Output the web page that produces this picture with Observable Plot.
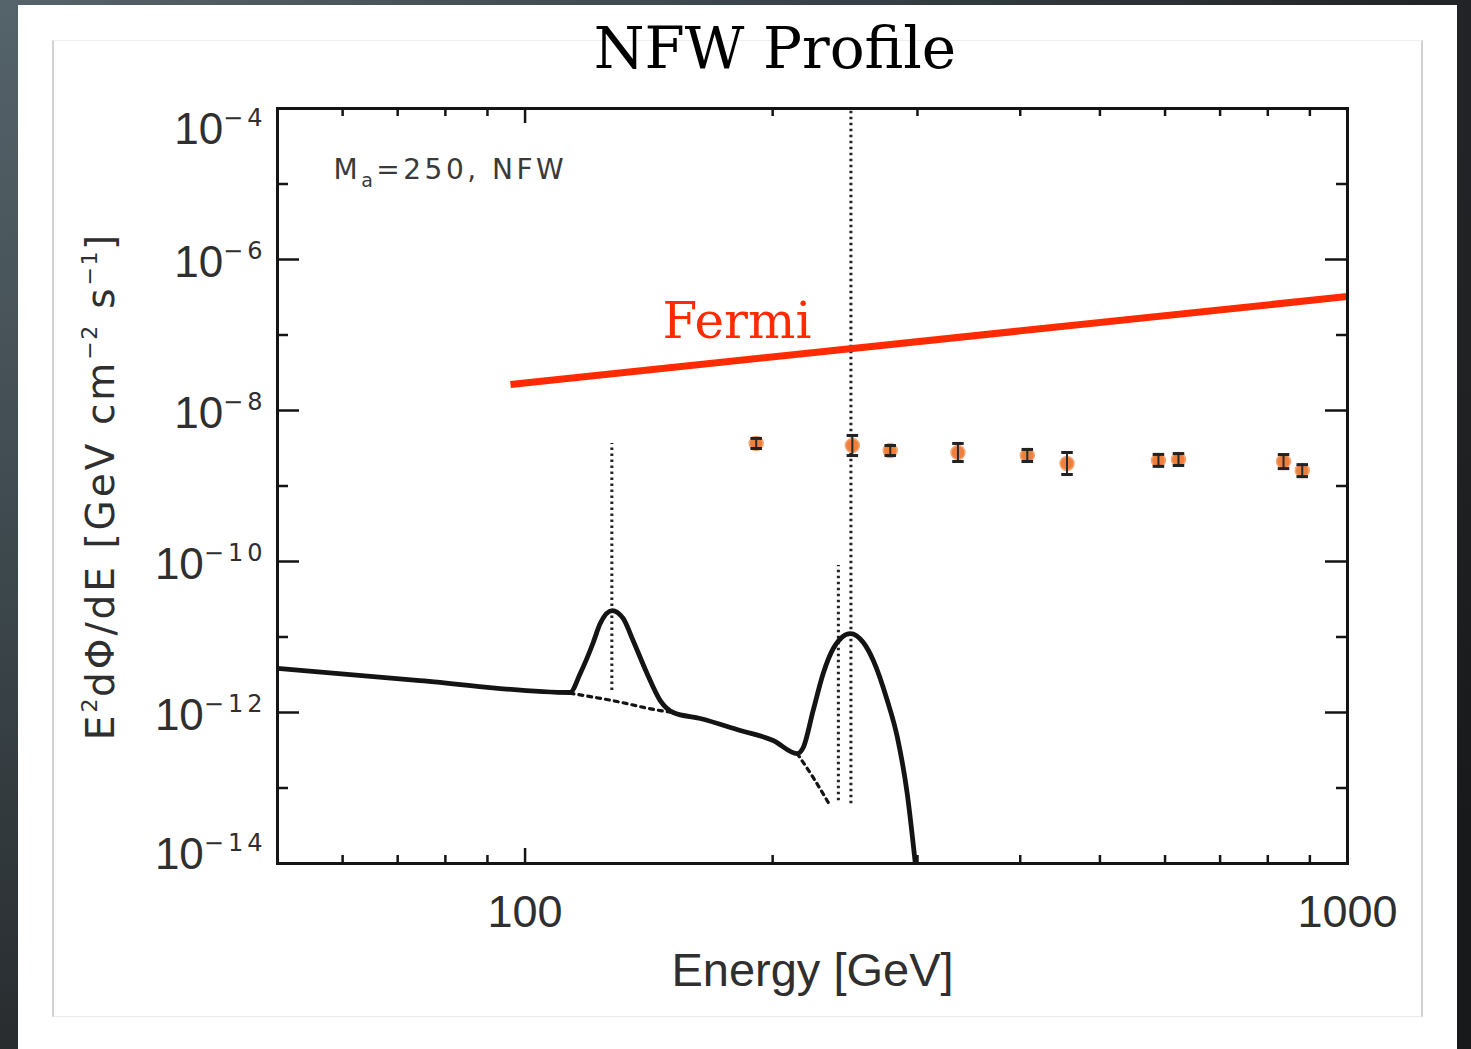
<!DOCTYPE html>
<html>
<head>
<meta charset="utf-8">
<script src="https://cdn.jsdelivr.net/npm/d3@7"></script>
<script src="https://cdn.jsdelivr.net/npm/@observablehq/plot@0.6"></script>
<style>
  html, body { margin: 0; padding: 0; }
  body {
    width: 1471px; height: 1049px; overflow: hidden; position: relative;
    background: radial-gradient(ellipse 120% 140% at 0% 0%, #55636a 0%, #3c474c 40%, #26292c 75%, #18191a 100%);
  }
  #sheet { position: absolute; left: 18px; top: 5px; width: 1439px; height: 1060px; background: #fff; }
  #figure {
    position: absolute; left: 52px; top: 40px; width: 1371px; height: 977px; box-sizing: border-box;
    border-left: 2px solid #d2d2d2; border-right: 2px solid #d2d2d2;
    border-top: 1px solid #efefef; border-bottom: 1px solid #ebebeb;
  }
  #chart { position: absolute; left: 52px; top: 40px; }
  #title {
    position: absolute; left: 0; top: 19px; width: 1550px; text-align: center;
    font-family: "DejaVu Serif", serif; font-size: 58px; line-height: 58px; color: #000;
  }
</style>
</head>
<body>
<div id="sheet"></div>
<div id="figure"></div>
<div id="chart"></div>
<div id="title">NFW Profile</div>
<script>
// ---- Axis ticks --------------------------------------------------------
const xMajorTicks = [100, 1000];
const xMinorTicks = [60, 70, 80, 90, 200, 300, 400, 500, 600, 700, 800, 900];
const yMajorExponents = [-4, -6, -8, -10, -12, -14];
const yMinorExponents = [-5, -7, -9, -11, -13];

// ---- Total gamma-ray spectrum (continuum + line features) --------------
const spectrumEnergy = [50, 74.5, 113.4, 116.7, 120.9, 123.4, 127.6, 131.6, 135.3, 140.7, 146.0, 151.4,
  163.3, 182.6, 200.3, 214.2, 217.9, 224.0, 230.4, 237.0, 248.6, 257.8, 265.1, 275.7, 283.6, 291.5, 298.2];
const spectrumFlux = [3.83e-12, 2.65e-12, 1.84e-12, 3.29e-12, 8.20e-12, 1.51e-11, 2.24e-11, 1.76e-11, 9.0e-12, 3.29e-12, 1.44e-12, 1.0e-12,
  8.33e-13, 5.78e-13, 4.26e-13, 2.86e-13, 3.44e-13, 1.06e-12, 3.29e-12, 7.05e-12, 1.11e-11, 8.45e-12, 4.89e-12, 1.44e-12, 4.67e-13, 8.45e-14, 1.0e-14];

// ---- Continuum without the lines (dashed, under each bump) -------------
const continuum1Energy = [113.4, 127.6, 146.0, 151.4];
const continuum1Flux = [1.80e-12, 1.44e-12, 1.06e-12, 1.0e-12];
const continuum2Energy = [214.2, 224.0, 233.7];
const continuum2Flux = [2.86e-13, 1.38e-13, 6.43e-14];

// ---- Monochromatic lines (dotted verticals) ----------------------------
const lineEnergy = [127.5, 240.4, 249];
const lineTop = [3.66e-9, 8.85e-11, 1e-4];
const lineBottom = [1.95e-12, 6.8e-14, 6.2e-14];

// ---- Measured points with error bars -----------------------------------
const dataEnergy = [191, 250, 278, 336, 408, 456, 589, 623, 836, 881];
const dataFlux = [3.66e-9, 3.44e-9, 2.95e-9, 2.78e-9, 2.54e-9, 1.99e-9, 2.18e-9, 2.24e-9, 2.11e-9, 1.60e-9];
const dataLow = [3.14e-9, 2.53e-9, 2.53e-9, 2.11e-9, 2.11e-9, 1.42e-9, 1.82e-9, 1.87e-9, 1.70e-9, 1.33e-9];
const dataHigh = [4.27e-9, 4.67e-9, 3.44e-9, 3.66e-9, 3.05e-9, 2.78e-9, 2.62e-9, 2.69e-9, 2.61e-9, 1.92e-9];

// ---- Fermi sensitivity line --------------------------------------------
const fermiEnergy = [96, 1000];
const fermiFlux = [2.21e-8, 3.24e-7];
const fermiLabelEnergy = 181;

// ---- Texts -------------------------------------------------------------
const xTitle = "Energy [GeV]";
const yTitle = "E^{2}dΦ/dE [GeV cm^{−2} s^{−1}]";
const modelNote = "M_{a}=250, NFW";
const fermiLabel = "Fermi";

// ------------------------------------------------------------------------
const W = 1371, H = 977;
const M = {top: 68, right: 76, bottom: 154, left: 225};
const innerW = W - M.left - M.right;
const innerH = H - M.top - M.bottom;
const ink = "#141414";
const labelInk = "#2f2f2f";

const spectrum = spectrumEnergy.map((e, i) => ({e, f: spectrumFlux[i]}));
const continuum = [
  ...continuum1Energy.map((e, i) => ({part: 1, e, f: continuum1Flux[i]})),
  ...continuum2Energy.map((e, i) => ({part: 2, e, f: continuum2Flux[i]}))
];
const lines = lineEnergy.map((e, i) => ({e, top: lineTop[i], bottom: lineBottom[i]}));
const points = dataEnergy.map((e, i) => ({e, f: dataFlux[i], lo: dataLow[i], hi: dataHigh[i]}));
const fermi = fermiEnergy.map((e, i) => ({e, f: fermiFlux[i]}));

// Fermi label sits just above its line (log–log interpolation)
const lf = Math.log10;
const tFermi = (lf(fermiLabelEnergy) - lf(fermiEnergy[0])) / (lf(fermiEnergy[1]) - lf(fermiEnergy[0]));
const fermiLabelFlux = 10 ** (lf(fermiFlux[0]) + tFermi * (lf(fermiFlux[1]) - lf(fermiFlux[0])));

const yMajor = yMajorExponents.map(k => 10 ** k);
const yMinor = yMinorExponents.map(k => 10 ** k);
const expLabel = k => `10^{−${-k}}`;

// horizontal cap for the error bars
const capSymbol = {draw(context, size) { const w = Math.sqrt(size) / 2; context.moveTo(-w, 0); context.lineTo(w, 0); }};

const xMajorLen = 15, xMinorLen = 8, yMajorLen = 22, yMinorLen = 11;

const chart = Plot.plot({
  width: W, height: H,
  marginTop: M.top, marginRight: M.right, marginBottom: M.bottom, marginLeft: M.left,
  x: {type: "log", domain: [50, 1000], axis: null},
  y: {type: "log", domain: [1e-14, 1e-4], axis: null},
  style: {background: "transparent", fontFamily: "'Liberation Sans', Arial, sans-serif", overflow: "visible"},
  marks: [
    // line features
    Plot.ruleX(lines, {x: "e", y1: "bottom", y2: "top", stroke: "#222", strokeWidth: 3, strokeDasharray: "2.5,3.5"}),
    // continuum
    Plot.line(continuum, {x: "e", y: "f", z: "part", stroke: ink, strokeWidth: 3.2, strokeDasharray: "4,5", curve: "monotone-x"}),
    // total spectrum
    Plot.line(spectrum, {x: "e", y: "f", stroke: ink, strokeWidth: 4.8, curve: "monotone-x", clip: true}),
    // data points
    Plot.dot(points, {x: "e", y: "f", r: 7, fill: "#ee7f3d", stroke: "#f4a878", strokeWidth: 1.5}),
    Plot.ruleX(points, {x: "e", y1: "lo", y2: "hi", stroke: "#2a2a2a", strokeWidth: 2}),
    Plot.dot(points, {x: "e", y: "lo", r: 6.5, symbol: capSymbol, stroke: "#222", strokeWidth: 3, fill: "none"}),
    Plot.dot(points, {x: "e", y: "hi", r: 6.5, symbol: capSymbol, stroke: "#222", strokeWidth: 3, fill: "none"}),
    // Fermi
    Plot.line(fermi, {x: "e", y: "f", stroke: "#ff2a00", strokeWidth: 7, strokeLinecap: "butt", clip: true}),
    Plot.text([fermiLabel], {x: () => fermiLabelEnergy, y: () => fermiLabelFlux, text: d => d, fill: "#ff2a00",
      fontFamily: "'DejaVu Serif', serif", fontSize: 50, textAnchor: "middle", lineAnchor: "bottom", dy: -23}),
    // annotation
    Plot.text([modelNote], {frameAnchor: "top-left", text: d => d, dx: 56, dy: 70, lineAnchor: "bottom", textAnchor: "start",
      fontFamily: "'DejaVu Sans', sans-serif", fontSize: 28, fill: "#3a3a3a", className: "model-note"}),

    // ticks: x (bottom & top), y (left & right), all pointing inward
    Plot.ruleX(xMajorTicks, {x: d => d, insetTop: innerH - xMajorLen, stroke: ink, strokeWidth: 2.5}),
    Plot.ruleX(xMajorTicks, {x: d => d, insetBottom: innerH - xMajorLen, stroke: ink, strokeWidth: 2.5}),
    Plot.ruleX(xMinorTicks, {x: d => d, insetTop: innerH - xMinorLen, stroke: ink, strokeWidth: 2.5}),
    Plot.ruleX(xMinorTicks, {x: d => d, insetBottom: innerH - xMinorLen, stroke: ink, strokeWidth: 2.5}),
    Plot.ruleY(yMajor, {y: d => d, insetRight: innerW - yMajorLen, stroke: ink, strokeWidth: 2.5}),
    Plot.ruleY(yMajor, {y: d => d, insetLeft: innerW - yMajorLen, stroke: ink, strokeWidth: 2.5}),
    Plot.ruleY(yMinor, {y: d => d, insetRight: innerW - yMinorLen, stroke: ink, strokeWidth: 2.5}),
    Plot.ruleY(yMinor, {y: d => d, insetLeft: innerW - yMinorLen, stroke: ink, strokeWidth: 2.5}),
    Plot.frame({stroke: ink, strokeWidth: 3}),

    // x tick labels and title
    Plot.text(xMajorTicks, {x: d => d, frameAnchor: "bottom", text: d => String(d), lineAnchor: "top", dy: 32,
      fontSize: 45, fill: labelInk}),
    Plot.text([xTitle], {frameAnchor: "bottom", text: d => d, lineAnchor: "bottom", dy: 122, fontSize: 47, fill: labelInk}),

    // y tick labels (end labels kept inside the frame height)
    Plot.text(yMajorExponents.slice(1, -1), {y: k => 10 ** k, frameAnchor: "left", text: expLabel, textAnchor: "end",
      lineAnchor: "middle", dx: -11, dy: 3, fontSize: 44, fill: labelInk, className: "y-tick-label"}),
    Plot.text(yMajorExponents.slice(0, 1), {y: k => 10 ** k, frameAnchor: "left", text: expLabel, textAnchor: "end",
      lineAnchor: "middle", dx: -11, dy: 21, fontSize: 44, fill: labelInk, className: "y-tick-label"}),
    Plot.text(yMajorExponents.slice(-1), {y: k => 10 ** k, frameAnchor: "left", text: expLabel, textAnchor: "end",
      lineAnchor: "middle", dx: -11, dy: -9, fontSize: 44, fill: labelInk, className: "y-tick-label"}),
    Plot.text([yTitle], {frameAnchor: "left", text: d => d, rotate: -90, textAnchor: "middle", lineAnchor: "bottom",
      dx: -164, fontFamily: "'DejaVu Sans', sans-serif", fontSize: 39, fill: labelInk, className: "y-title"})
  ]
});

document.getElementById("chart").append(chart);

// Turn "^{...}" / "_{...}" inside text marks into raised / lowered tspans
const SVGNS = "http://www.w3.org/2000/svg";
function scripted(el, opt) {
  const raw = el.textContent;
  if (raw.indexOf("^{") < 0 && raw.indexOf("_{") < 0) return;
  const parts = raw.split(/([\^_]\{[^}]*\})/).filter(s => s !== "");
  while (el.firstChild) el.removeChild(el.firstChild);
  let offset = 0;
  for (const p of parts) {
    const t = document.createElementNS(SVGNS, "tspan");
    let target = 0, body = p;
    if (p.startsWith("^{")) {
      target = -opt.raise; body = p.slice(2, -1);
      t.setAttribute("font-size", opt.size);
      if (opt.family) t.setAttribute("font-family", opt.family);
      if (opt.spacing != null) t.setAttribute("letter-spacing", opt.spacing);
    } else if (p.startsWith("_{")) {
      target = opt.drop; body = p.slice(2, -1);
      t.setAttribute("font-size", opt.size);
    }
    if (opt.baseSpacing != null) t.setAttribute("letter-spacing", t.getAttribute("letter-spacing") ?? opt.baseSpacing);
    if (target - offset !== 0) t.setAttribute("dy", target - offset);
    offset = target;
    t.textContent = body;
    el.appendChild(t);
  }
}
const styleFor = {
  "y-tick-label": {size: 24, raise: 18, family: "'DejaVu Sans', sans-serif", spacing: 4},
  "y-title": {size: 22, raise: 17, spacing: 1.5, baseSpacing: 3},
  "model-note": {size: 19, drop: 8, baseSpacing: 3.5}
};
chart.querySelectorAll("text").forEach(el => {
  for (const [cls, opt] of Object.entries(styleFor)) {
    if (el.closest("." + cls)) { scripted(el, opt); break; }
  }
});
</script>
</body>
</html>
